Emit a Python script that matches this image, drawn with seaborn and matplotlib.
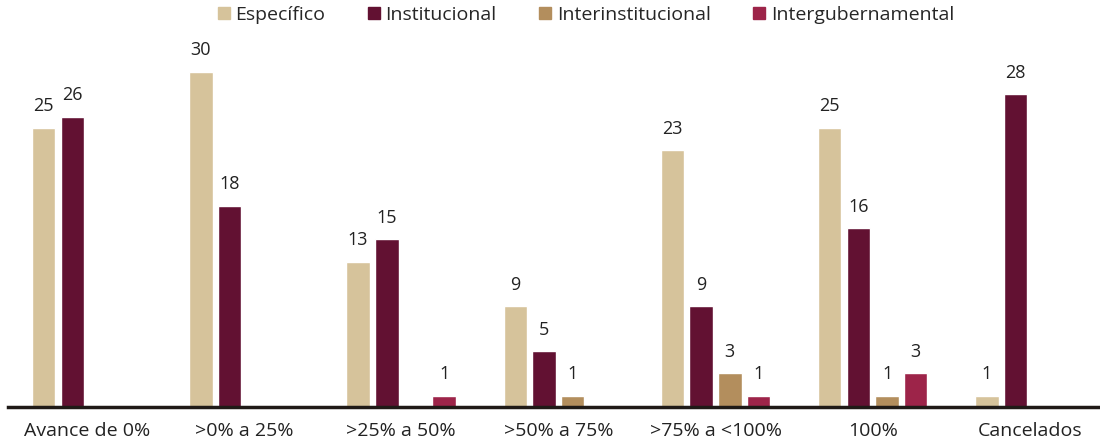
import matplotlib
matplotlib.use("Agg")
import matplotlib.pyplot as plt
import seaborn as sns
import pandas as pd
import numpy as np

# Categories on the x axis
categorias = ["Avance de 0%", ">0% a 25%", ">25% a 50%", ">50% a 75%",
              ">75% a <100%", "100%", "Cancelados"]
# Series names
series = ["Específico", "Institucional", "Interinstitucional", "Intergubernamental"]
# Values per series (None = no bar)
especifico = [25, 30, 13, 9, 23, 25, 1]
institucional = [26, 18, 15, 5, 9, 16, 28]
interinstitucional = [None, None, None, 1, 3, 1, None]
intergubernamental = [None, None, 1, None, 1, 3, None]

colores = ["#D6C39B", "#621132", "#B38E5D", "#9D2449"]

# Build long table for seaborn
filas = []
for nombre, valores in zip(series, [especifico, institucional, interinstitucional, intergubernamental]):
    for cat, v in zip(categorias, valores):
        filas.append({"categoria": cat, "serie": nombre, "valor": np.nan if v is None else v})
df = pd.DataFrame(filas)

sns.set_theme(style="white")
plt.rcParams["font.family"] = ["Open Sans", "DejaVu Sans"]

fig = plt.figure(figsize=(11, 4.43), dpi=100)
ax = fig.add_axes([0.007, 0.0813, 0.993, 0.8397])

sns.barplot(data=df, x="categoria", y="valor", hue="serie", order=categorias,
            hue_order=series, palette=colores, width=0.73, gap=0.18,
            saturation=1, errorbar=None, legend=False, ax=ax)

# Labels above bars
for cont in ax.containers:
    labels = ["" if np.isnan(b.get_height()) else f"{int(round(b.get_height()))}" for b in cont]
    ax.bar_label(cont, labels=labels, padding=9, fontsize=13, color="#222222")

ax.set_xlim(-0.503, 6.446)
ax.set_ylim(0, 33.3)
ax.set_xlabel("")
ax.set_ylabel("")
ax.set_yticks([])
ax.tick_params(axis="x", labelsize=14, colors="#222222", length=0, pad=11)
for s in ["top", "right", "left"]:
    ax.spines[s].set_visible(False)
ax.spines["bottom"].set_color("#1f1a17")
ax.spines["bottom"].set_linewidth(2.5)

# Legend with square markers
handles = [plt.Line2D([], [], marker="s", linestyle="", color=c, markersize=9)
           for c in colores]
fig.legend(handles, series, loc="upper center", bbox_to_anchor=(0.531, 1.027),
           ncol=4, frameon=False, fontsize=14, handletextpad=0.1,
           columnspacing=2.0, handlelength=1.0)

fig.savefig("out.png", dpi=100)
